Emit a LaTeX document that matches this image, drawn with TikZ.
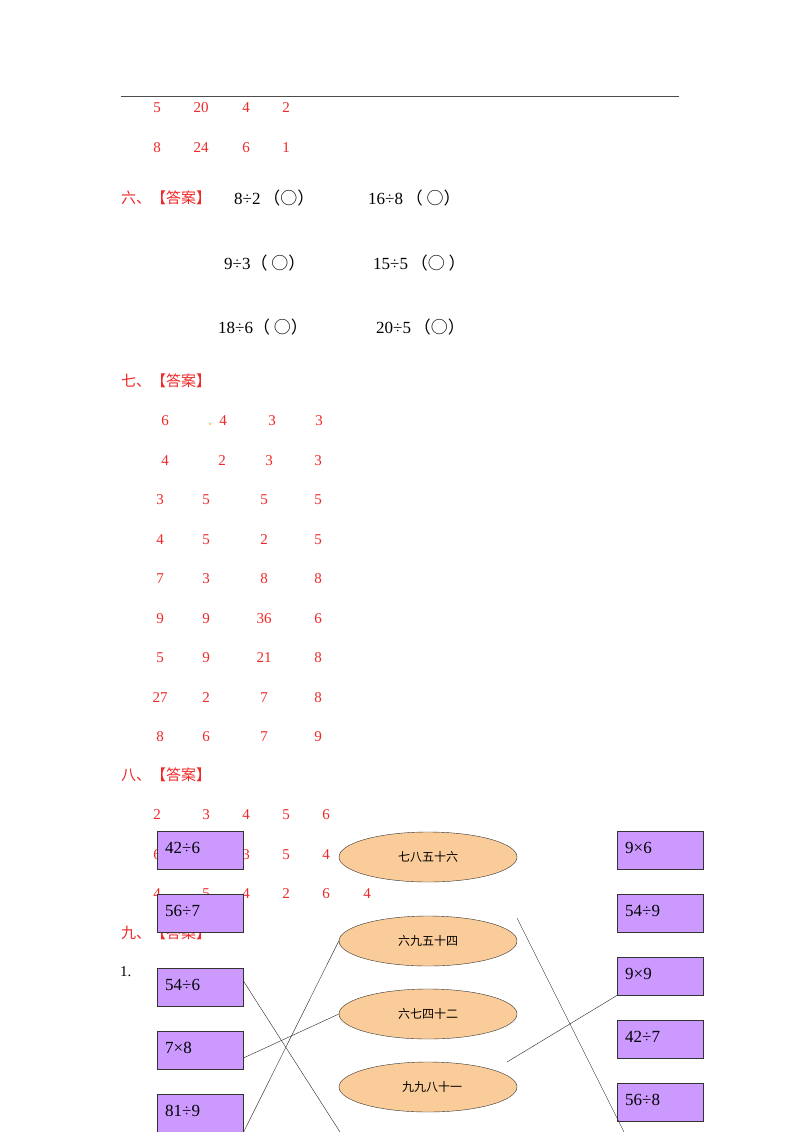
\documentclass[tikz,border=0pt]{standalone}
\usetikzlibrary{shapes.geometric}
\usepackage{fontspec}
\setmainfont{Liberation Serif}
\newfontfamily\cjk{Noto Sans CJK SC}
\definecolor{ans}{RGB}{240,40,40}
\definecolor{pbox}{RGB}{204,153,255}
\definecolor{oell}{RGB}{250,204,153}
\begin{document}
\begin{tikzpicture}[x=1pt,y=-1pt,
 r/.style={text=ans,font=\fontsize{15}{15}\selectfont,inner sep=0pt},
 k/.style={text=black,font=\fontsize{17}{17}\selectfont,inner sep=0pt,anchor=west},
 hd/.style={text=ans,font=\cjk\fontsize{15}{15}\selectfont,inner sep=0pt,anchor=west},
 bx/.style={draw=black!80,fill=pbox,minimum width=86pt,minimum height=38pt,inner sep=0pt,anchor=north west},
 bt/.style={font=\fontsize{17}{17}\selectfont,anchor=west,inner sep=0pt},
 el/.style={draw=black!80,fill=oell,ellipse,minimum width=178pt,minimum height=50pt,inner sep=0pt,font=\cjk\fontsize{12}{12}\selectfont}]
\useasboundingbox (0,0) rectangle (800,1132);
\fill[white] (0,0) rectangle (800,1132);
\draw[line width=1pt,black!70] (121,96) -- (679,96);
% top rows
\foreach \x/\t in {157/5,201/20,246/4,286/2} \node[r] at (\x,108) {\t};
\foreach \x/\t in {157/8,201/24,246/6,286/1} \node[r] at (\x,148) {\t};
% six
\node[hd] at (121,198) {六、【答案】};
\node[k] at (234,198) {8÷2\,{\cjk （○）}};
\node[k] at (368,198) {16÷8\,{\cjk （ ○）}};
\node[k] at (224,263) {9÷3{\cjk （ ○）}};
\node[k] at (373,263) {15÷5\,{\cjk （○ ）}};
\node[k] at (218,327) {18÷6{\cjk （ ○）}};
\node[k] at (376,327) {20÷5\,{\cjk （○）}};
% seven
\node[hd] at (121,381) {七、【答案】};
\foreach \x/\t in {165/6,223/4,272/3,319/3} \node[r] at (\x,421) {\t};
\fill[orange!80!yellow] (210,424) circle (0.8);
\foreach \x/\t in {165/4,222/2,269/3,318/3} \node[r] at (\x,461) {\t};
\foreach \y/\a/\b/\c/\d in {500/3/5/5/5,540/4/5/2/5,579/7/3/8/8,619/9/9/36/6,658/5/9/21/8,698/27/2/7/8,737/8/6/7/9}
 {\node[r] at (160,\y) {\a};\node[r] at (206,\y) {\b};\node[r] at (264,\y) {\c};\node[r] at (318,\y) {\d};}
% eight
\node[hd] at (121,775) {八、【答案】};
\foreach \x/\t in {157/2,206/3,246/4,286/5,326/6} \node[r] at (\x,815) {\t};
\foreach \x/\t in {157/6,246/3,286/5,326/4} \node[r] at (\x,855) {\t};
\foreach \x/\t in {157/4,206/5,246/4,286/2,326/6,367/4} \node[r] at (\x,894) {\t};
\node[hd] at (121,933) {九、【答案】};
\node[k,font=\fontsize{15}{15}\selectfont] at (120,972) {1.};
% boxes
\foreach \n/\y/\t in {l1/831/42÷6,l2/894/56÷7,l3/968/54÷6,l4/1031/7×8,l5/1094/81÷9}
 {\node[bx] (\n) at (157,\y) {}; \node[bt] at (165,\y+17) {\t};}
\foreach \n/\y/\t in {r1/831/9×6,r2/894/54÷9,r3/957/9×9,r4/1020/42÷7,r5/1083/56÷8}
 {\node[bx] (\n) at (617,\y) {}; \node[bt] at (625,\y+17) {\t};}
\node[el] (e1) at (428,857) {七八五十六};
\node[el] (e2) at (428,941) {六九五十四};
\node[el] (e3) at (428,1014) {六七四十二};
\node[el] (e4) at (428,1087) {\hspace{8pt}九九八十一};
% lines
\coordinate (a1) at (340,1132);
\coordinate (a2) at (517,918);
\coordinate (a3) at (624,1132);
\coordinate (a4) at (507,1062);
\draw[black!85] (l3.north east) ++(0,13) -- (a1);
\draw[black!85] (l4.north east) ++(0,27) -- (e3.west);
\draw[black!85] (l5.south east) -- (e2.west);
\draw[black!85] (a2) -- (a3);
\draw[black!85] (a4) -- (r3.south west);
\end{tikzpicture}
\end{document}
